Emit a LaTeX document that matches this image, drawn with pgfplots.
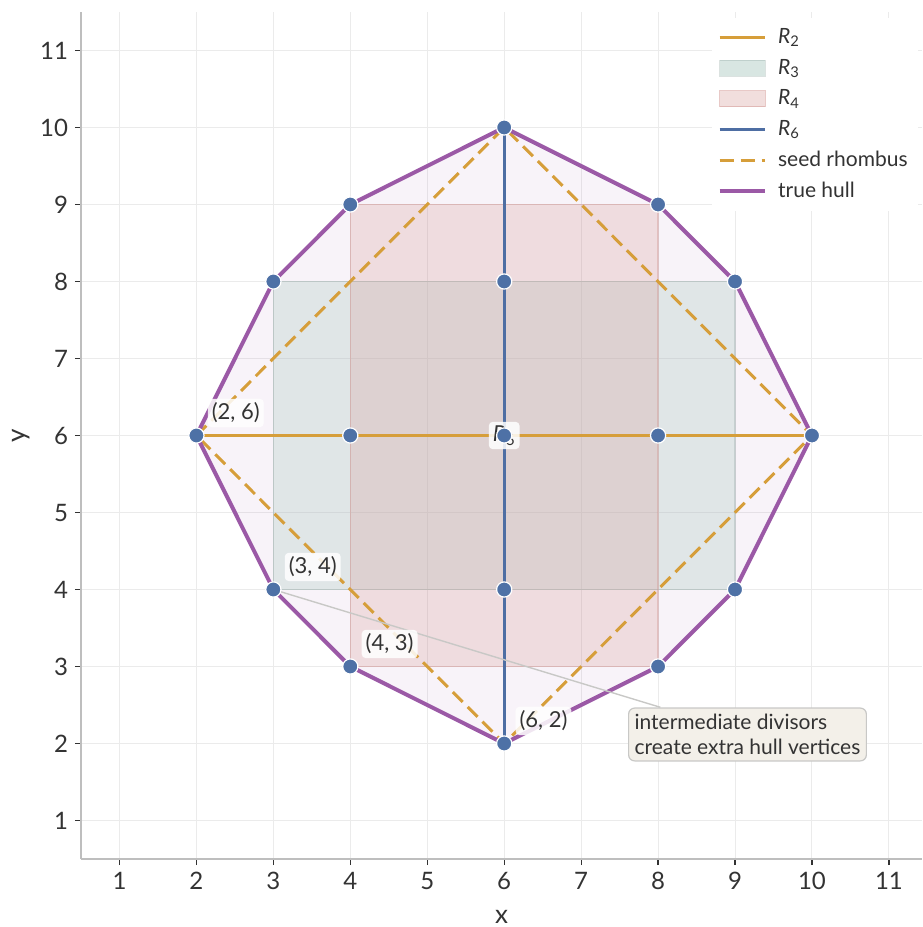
\documentclass[border=0pt]{standalone}
\usepackage{pgfplots}
\pgfplotsset{compat=1.18}
\usepackage{fontspec}
\setmainfont{Lato}
\definecolor{gold}{RGB}{214,158,58}
\definecolor{blue6}{RGB}{78,110,163}
\definecolor{hullc}{RGB}{155,89,166}
\definecolor{rthree}{RGB}{170,200,192}
\definecolor{rfour}{RGB}{211,149,145}
\definecolor{ptc}{RGB}{78,113,166}
\definecolor{gridc}{RGB}{235,235,235}
\definecolor{spine}{RGB}{190,190,190}
\definecolor{txt}{RGB}{51,51,51}
\definecolor{annfill}{RGB}{243,240,233}
\definecolor{annline}{RGB}{200,200,198}
\tikzset{lbl/.style={fill=white, fill opacity=0.85, text opacity=1, text=txt, rounded corners=2pt,
    inner sep=2pt, font=\fontsize{11}{13}\selectfont}}
\pgfplotsset{
  lineleg/.style={legend image code/.code={\draw[##1] (0cm,0cm) -- (0.8cm,0cm); \path (0.92cm,0cm);}},
  rectleg/.style={legend image code/.code={\filldraw[##1] (0cm,-0.14cm) rectangle (0.8cm,0.14cm); \path (0.92cm,0cm);}},
}
\begin{document}
\begin{tikzpicture}
\begin{axis}[name=ax, width=420.5pt, height=423.5pt, scale only axis,
  xmin=0.5, xmax=11.43, ymin=0.5, ymax=11.5,
  xtick={1,...,11}, ytick={1,...,11},
  grid=major, major grid style={gridc, line width=0.5pt},
  axis lines=left, axis line style={spine, line width=0.7pt, -},
  tick style={txt, line width=0.6pt}, tick align=outside, major tick length=3pt,
  ticklabel style={font=\fontsize{12}{14}\selectfont, text=txt},
  /pgf/number format/assume math mode=true,
  xlabel={x}, ylabel={y},
  label style={font=\fontsize{13}{15}\selectfont, text=txt},
  xlabel style={yshift=-3.5pt},
  ylabel style={yshift=-2pt},
  legend style={at={(rel axis cs:1,1)}, anchor=north east, xshift=-2pt, yshift=-3pt,
    draw=none, fill=white, font=\fontsize{10.5}{12.6}\selectfont, text=txt,
    row sep=2.3pt, inner sep=3pt},
  legend cell align=left,
]
\addlegendimage{lineleg, gold, line width=1.5pt}
\addlegendentry{\textit{R}\textsubscript{2}}
\addlegendimage{rectleg, fill=rthree, fill opacity=0.45, draw=rthree!80!black, draw opacity=0.3}
\addlegendentry{\textit{R}\textsubscript{3}}
\addlegendimage{rectleg, fill=rfour, fill opacity=0.3, draw=rfour, draw opacity=0.5}
\addlegendentry{\textit{R}\textsubscript{4}}
\addlegendimage{lineleg, blue6, line width=1.5pt}
\addlegendentry{\textit{R}\textsubscript{6}}
\addlegendimage{lineleg, gold, line width=1.5pt, dash pattern=on 7pt off 3.5pt}
\addlegendentry{seed rhombus}
\addlegendimage{lineleg, hullc, line width=2pt}
\addlegendentry{true hull}

% hull fill
\addplot[fill=hullc, fill opacity=0.07, draw=none, forget plot] coordinates {
(2,6)(3,8)(4,9)(6,10)(8,9)(9,8)(10,6)(9,4)(8,3)(6,2)(4,3)(3,4)} -- cycle;
% R3
\addplot[fill=rthree, fill opacity=0.3, draw=rthree!80!black, draw opacity=0.3, line width=0.6pt, forget plot]
coordinates {(3,4)(9,4)(9,8)(3,8)} -- cycle;
% R4
\addplot[fill=rfour, fill opacity=0.25, draw=rfour, draw opacity=0.4, line width=0.6pt, forget plot]
coordinates {(4,3)(8,3)(8,9)(4,9)} -- cycle;
% R2
\addplot[gold, line width=1.5pt, forget plot] coordinates {(2,6)(10,6)};
% R6
\addplot[blue6, line width=1.5pt, forget plot] coordinates {(6,2)(6,10)};
% seed rhombus
\addplot[gold, line width=1.5pt, dash pattern=on 7pt off 3.5pt, forget plot]
coordinates {(2,6)(6,10)(10,6)(6,2)} -- cycle;
% hull
\addplot[hullc, line width=2pt, line join=round, forget plot] coordinates {
(2,6)(3,8)(4,9)(6,10)(8,9)(9,8)(10,6)(9,4)(8,3)(6,2)(4,3)(3,4)} -- cycle;

\draw[annline, line width=0.7pt] (axis cs:3,4) -- (axis cs:8.03,2.47);
\node[lbl] at (axis cs:6,6) {\textit{R}\textsubscript{6}};

% points
\addplot[only marks, mark=*, mark size=3.8pt, mark options={fill=ptc, draw=white, line width=0.6pt}, forget plot]
coordinates {(2,6)(3,8)(4,9)(6,10)(8,9)(9,8)(10,6)(9,4)(8,3)(6,2)(4,3)(3,4)
(4,6)(6,6)(8,6)(6,8)(6,4)};

\node[lbl, anchor=south west, xshift=5.5pt, yshift=4pt] at (axis cs:2,6) {(2, 6)};
\node[lbl, anchor=south west, xshift=5.5pt, yshift=4pt] at (axis cs:3,4) {(3, 4)};
\node[lbl, anchor=south west, xshift=5.5pt, yshift=4pt] at (axis cs:4,3) {(4, 3)};
\node[lbl, anchor=south west, xshift=5.5pt, yshift=4pt] at (axis cs:6,2) {(6, 2)};

\node[fill=annfill, draw=annline, line width=0.6pt, rounded corners=3pt, text=txt,
  align=left, inner sep=3pt, font=\fontsize{10.5}{12.6}\selectfont]
  at (axis cs:9.162,2.117) {intermediate divisors\\create extra hull vertices};
\end{axis}
\pgfresetboundingbox
\path ([shift={(-40.5pt,-34pt)}]ax.south west) rectangle ([shift={(420.5pt,429.5pt)}]ax.south west);
\end{tikzpicture}
\end{document}
